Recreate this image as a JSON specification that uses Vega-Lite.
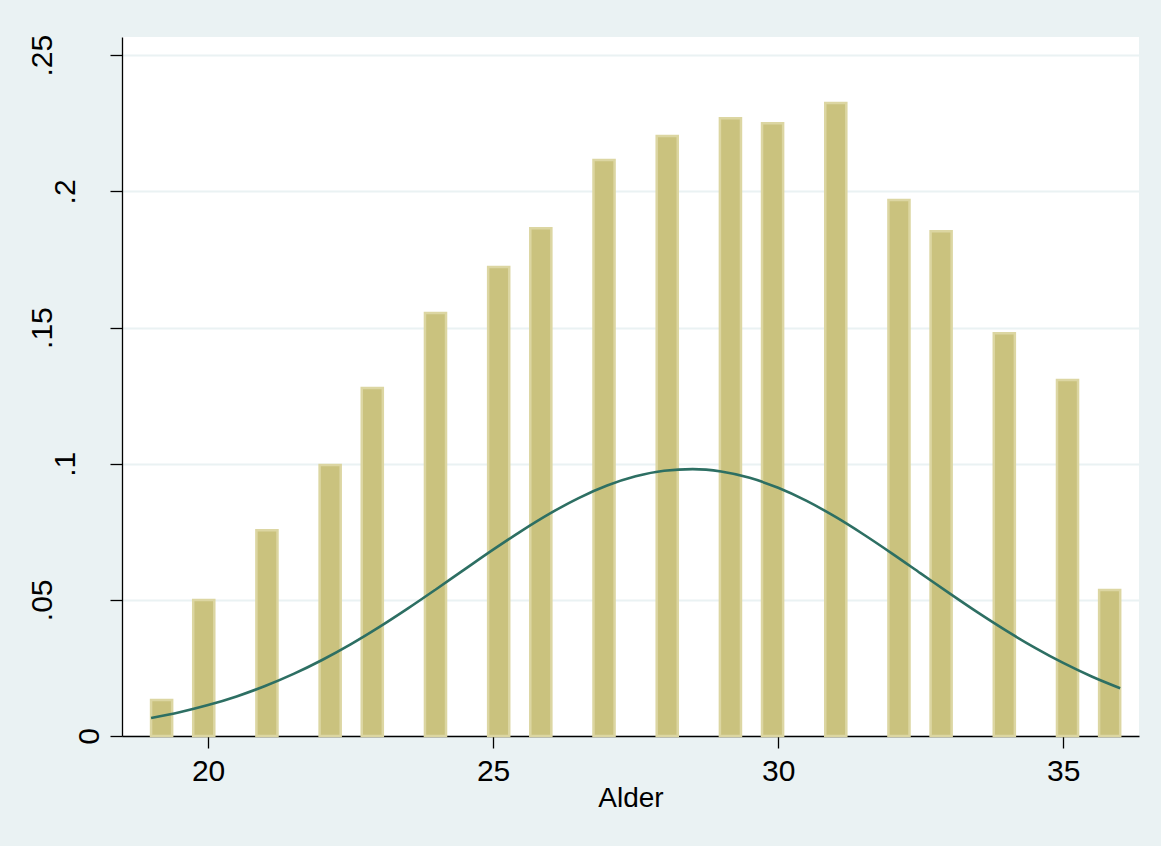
{
  "$schema": "https://vega.github.io/schema/vega-lite/v6.json",
  "autosize": {"type": "none"},
  "width": 1017,
  "height": 699,
  "padding": {"left": 122, "top": 37, "right": 22, "bottom": 110},
  "background": "#EAF2F3",
  "config": {
    "view": {"stroke": null, "fill": "white"},
    "font": "Liberation Sans",
    "axis": {
      "domainColor": "#000000",
      "domainWidth": 1.3,
      "tickColor": "#000000",
      "tickWidth": 1.3,
      "tickSize": 12,
      "labelColor": "#000000",
      "titleColor": "#000000",
      "labelFontSize": 30,
      "titleFontSize": 28,
      "titleFontWeight": "normal",
      "labelFont": "Liberation Sans",
      "titleFont": "Liberation Sans"
    }
  },
  "datasets": {
    "bars": [
      {"alder": 19, "bin_start": 19.0, "bin_end": 19.3696, "density": 0.0132},
      {"alder": 20, "bin_start": 19.7391, "bin_end": 20.1087, "density": 0.0499},
      {"alder": 21, "bin_start": 20.8478, "bin_end": 21.2174, "density": 0.0756},
      {"alder": 22, "bin_start": 21.9565, "bin_end": 22.3261, "density": 0.0995},
      {"alder": 23, "bin_start": 22.6957, "bin_end": 23.0652, "density": 0.1278},
      {"alder": 24, "bin_start": 23.8043, "bin_end": 24.1739, "density": 0.1553},
      {"alder": 25, "bin_start": 24.9130, "bin_end": 25.2826, "density": 0.1722},
      {"alder": 26, "bin_start": 25.6522, "bin_end": 26.0217, "density": 0.1865},
      {"alder": 27, "bin_start": 26.7609, "bin_end": 27.1304, "density": 0.2115},
      {"alder": 28, "bin_start": 27.8696, "bin_end": 28.2391, "density": 0.2203},
      {"alder": 29, "bin_start": 28.9783, "bin_end": 29.3478, "density": 0.2269},
      {"alder": 30, "bin_start": 29.7174, "bin_end": 30.0870, "density": 0.2250},
      {"alder": 31, "bin_start": 30.8261, "bin_end": 31.1957, "density": 0.2325},
      {"alder": 32, "bin_start": 31.9348, "bin_end": 32.3043, "density": 0.1968},
      {"alder": 33, "bin_start": 32.6739, "bin_end": 33.0435, "density": 0.1854},
      {"alder": 34, "bin_start": 33.7826, "bin_end": 34.1522, "density": 0.1479},
      {"alder": 35, "bin_start": 34.8913, "bin_end": 35.2609, "density": 0.1307},
      {"alder": 36, "bin_start": 35.6304, "bin_end": 36.0, "density": 0.0536}
    ],
    "curve": [
      {"x": 19.0, "y": 0.00662},
      {"x": 19.5, "y": 0.00873},
      {"x": 20.0, "y": 0.01136},
      {"x": 20.5, "y": 0.01454},
      {"x": 21.0, "y": 0.01836},
      {"x": 21.5, "y": 0.02281},
      {"x": 22.0, "y": 0.02792},
      {"x": 22.5, "y": 0.03366},
      {"x": 23.0, "y": 0.03998},
      {"x": 23.5, "y": 0.04678},
      {"x": 24.0, "y": 0.05391},
      {"x": 24.5, "y": 0.06119},
      {"x": 25.0, "y": 0.06842},
      {"x": 25.5, "y": 0.07536},
      {"x": 26.0, "y": 0.08176},
      {"x": 26.5, "y": 0.08738},
      {"x": 27.0, "y": 0.09197},
      {"x": 27.5, "y": 0.09536},
      {"x": 28.0, "y": 0.0974},
      {"x": 28.5, "y": 0.098},
      {"x": 29.0, "y": 0.09711},
      {"x": 29.5, "y": 0.0948},
      {"x": 30.0, "y": 0.09114},
      {"x": 30.5, "y": 0.08633},
      {"x": 31.0, "y": 0.08054},
      {"x": 31.5, "y": 0.07401},
      {"x": 32.0, "y": 0.067},
      {"x": 32.5, "y": 0.05973},
      {"x": 33.0, "y": 0.05246},
      {"x": 33.5, "y": 0.04538},
      {"x": 34.0, "y": 0.03868},
      {"x": 34.5, "y": 0.03247},
      {"x": 35.0, "y": 0.02684},
      {"x": 35.5, "y": 0.02186},
      {"x": 36.0, "y": 0.01754}
    ]
  },
  "layer": [
    {
      "data": {"name": "bars"},
      "mark": {"type": "bar", "fill": "#CAC27E", "stroke": "#DCD6A2", "strokeWidth": 2.5},
      "encoding": {
        "x": {
          "field": "bin_start",
          "type": "quantitative",
          "scale": {"domain": [18.49, 36.33], "nice": false, "zero": false},
          "axis": {
            "title": "Alder",
            "values": [20, 25, 30, 35],
            "format": "d",
            "grid": false,
            "labelPadding": 8,
            "titlePadding": -2
          }
        },
        "x2": {"field": "bin_end"},
        "y": {
          "field": "density",
          "type": "quantitative",
          "scale": {"domain": [0, 0.2567], "nice": false},
          "axis": {
            "title": null,
            "values": [0, 0.05, 0.1, 0.15, 0.2, 0.25],
            "grid": true,
            "gridColor": "#EAF2F3",
            "gridWidth": 2,
            "labelAngle": 270,
            "labelAlign": "center",
            "labelBaseline": "alphabetic",
            "labelPadding": {"expr": "12 + 23.5 * (length(datum.value == 0 ? '0' : slice(format(datum.value, '.2~f'), 1)) - 1)"},
            "labelExpr": "datum.value == 0 ? '0' : slice(format(datum.value, '.2~f'), 1)"
          }
        },
        "y2": {"datum": 0}
      }
    },
    {
      "data": {"name": "curve"},
      "mark": {"type": "line", "color": "#2D6F63", "strokeWidth": 2.6, "interpolate": "monotone"},
      "encoding": {
        "x": {"field": "x", "type": "quantitative"},
        "y": {"field": "y", "type": "quantitative"}
      }
    }
  ]
}
